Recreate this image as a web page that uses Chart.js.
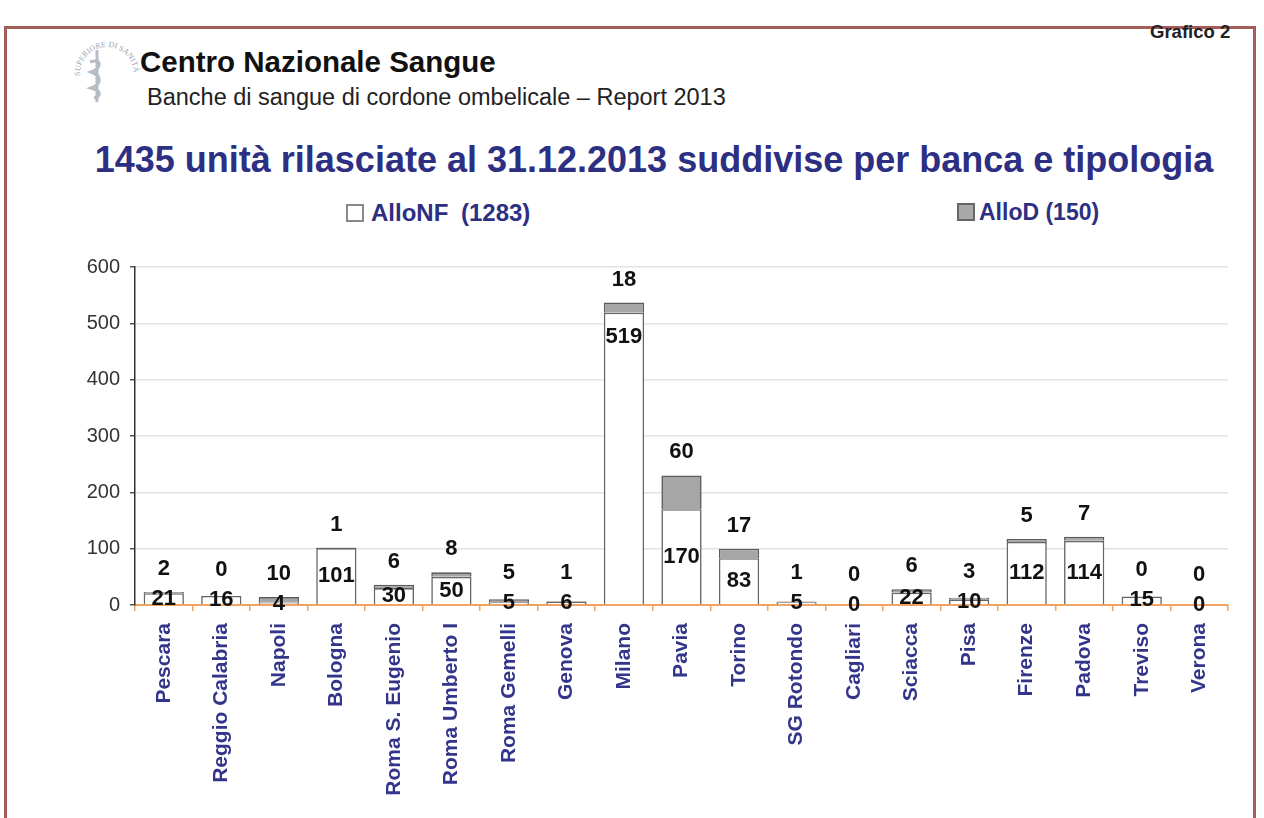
<!DOCTYPE html>
<html>
<head>
<meta charset="utf-8">
<script src="https://cdn.jsdelivr.net/npm/chart.js@4.4.1/dist/chart.umd.min.js"></script>
<style>
  body { margin: 0; background: #fff; width: 1264px; height: 818px; overflow: hidden; position: relative; font-family: "Liberation Sans", Arial, sans-serif; }
  #frame { position: absolute; left: 4px; top: 26px; width: 1252px; height: 900px; border: 3px solid #a65c58; box-sizing: border-box; }
  .abs { position: absolute; white-space: nowrap; }
  #head1 { left: 140px; top: 45px; font-size: 29.5px; font-weight: bold; color: #111; }
  #head2 { left: 147px; top: 84px; font-size: 23.5px; color: #222; }
  #grafico { left: 1150px; top: 21px; font-size: 18.5px; font-weight: bold; color: #222; font-family: "Liberation Sans Narrow", "Liberation Sans", sans-serif; }
  #title { left: 0; width: 1308px; text-align: center; top: 139px; font-size: 36px; font-weight: bold; color: #2d2f82; }
  .leg { top: 199px; font-size: 24px; font-weight: bold; color: #2d2f82; }
  .box { display: inline-block; width: 14px; height: 14px; border: 2px solid #888; vertical-align: -1px; margin-right: 7px; }
  #chartWrap { position: absolute; left: 60px; top: 245px; width: 1180px; height: 573px; }
</style>
</head>
<body>
<div id="frame"></div>
<svg class="abs" style="left:72px;top:36px" width="70" height="72" viewBox="0 0 70 72">
  <defs><path id="arc" d="M8,40 A27,27 0 1,1 60,48"/></defs>
  <text font-size="8" fill="#9aa4b4" font-family="Liberation Serif"><textPath href="#arc">SUPERIORE DI SANITÀ</textPath></text>
  <path d="M25 14 L25 66 M18 26 C30 22 30 32 19 36 C30 40 30 48 19 52 C30 55 29 60 22 62" stroke="#b6bcc6" stroke-width="3" fill="none"/>
</svg>
<div id="head1" class="abs">Centro Nazionale Sangue</div>
<div id="head2" class="abs">Banche di sangue di cordone ombelicale – Report 2013</div>
<div id="grafico" class="abs">Grafico 2</div>
<div id="title" class="abs">1435 unità rilasciate al 31.12.2013 suddivise per banca e tipologia</div>
<div class="abs leg" style="left:346px;word-spacing:6px"><span class="box" style="background:#fff"></span>AlloNF (1283)</div>
<div class="abs leg" style="left:957px;font-size:23px"><span class="box" style="background:#a9a9a9;border-color:#666;margin-right:4px"></span>AlloD (150)</div>
<div id="chartWrap"><canvas id="chart"></canvas></div>
<script>
const banks = ["Pescara", "Reggio Calabria", "Napoli", "Bologna", "Roma S. Eugenio", "Roma Umberto I",
  "Roma Gemelli", "Genova", "Milano", "Pavia", "Torino", "SG Rotondo", "Cagliari", "Sciacca",
  "Pisa", "Firenze", "Padova", "Treviso", "Verona"];
const alloNF = [21, 16, 4, 101, 30, 50, 5, 6, 519, 170, 83, 5, 0, 22, 10, 112, 114, 15, 0];
const alloD = [2, 0, 10, 1, 6, 8, 5, 1, 18, 60, 17, 1, 0, 6, 3, 5, 7, 0, 0];
const yTicks = [0, 100, 200, 300, 400, 500, 600];

// etichette numeriche sulle barre
const barLabels = {
  id: "barLabels",
  afterDatasetsDraw(chart) {
    const ctx = chart.ctx;
    const nf = chart.getDatasetMeta(0).data;
    const d = chart.getDatasetMeta(1).data;
    ctx.save();
    ctx.font = "bold 22px 'Liberation Sans', Arial, sans-serif";
    ctx.fillStyle = "#111";
    ctx.textAlign = "center";
    ctx.textBaseline = "middle";
    nf.forEach((bar, i) => {
      const h = bar.base - bar.y;
      const ny = h > 200 ? bar.y + 24 : (bar.y + bar.base) / 2;
      ctx.fillText(String(alloNF[i]), bar.x, ny);
      const top = d[i].y;
      const dy = Math.min(top - 23, ny - 30);
      ctx.fillText(String(alloD[i]), d[i].x, dy);
    });
    ctx.restore();
  }
};

new Chart(document.getElementById("chart"), {
  type: "bar",
  data: {
    labels: banks,
    datasets: [
      { label: "AlloNF (1283)", data: alloNF, backgroundColor: "#ffffff", borderColor: "#666666", borderWidth: 1.6 },
      { label: "AlloD (150)", data: alloD, backgroundColor: "#a6a6a6", borderColor: "#5c5c5c", borderWidth: 1.6 }
    ]
  },
  options: {
    responsive: true,
    maintainAspectRatio: false,
    animation: false,
    categoryPercentage: 1,
    barPercentage: 0.7,
    layout: { padding: { top: 11, right: 12 } },
    plugins: { legend: { display: false }, title: { display: false }, tooltip: { enabled: false } },
    scales: {
      x: {
        stacked: true,
        afterFit: (s) => { s.height = 213; },
        border: { color: "#f0a35e", width: 2 },
        grid: { display: true, drawOnChartArea: false, offset: true, tickLength: 6, color: "#f0a35e", lineWidth: 1.5 },
        ticks: {
          minRotation: 90, maxRotation: 90, autoSkip: false, padding: 12,
          color: "#33358a", font: { family: "'Liberation Sans', Arial, sans-serif", size: 21, weight: "bold" }
        }
      },
      y: {
        stacked: true,
        min: 0, max: 600,
        afterFit: (s) => { s.width = 75; },
        afterBuildTicks: (s) => { s.ticks = yTicks.map(v => ({ value: v })); },
        border: { color: "#333", width: 1.5 },
        grid: { color: "#e2e2e2", lineWidth: 1.5, tickLength: 5, tickColor: "#555" },
        ticks: {
          padding: 10, color: "#333",
          font: { family: "'Liberation Sans', Arial, sans-serif", size: 20 }
        }
      }
    }
  },
  plugins: [barLabels]
});
</script>
</body>
</html>
